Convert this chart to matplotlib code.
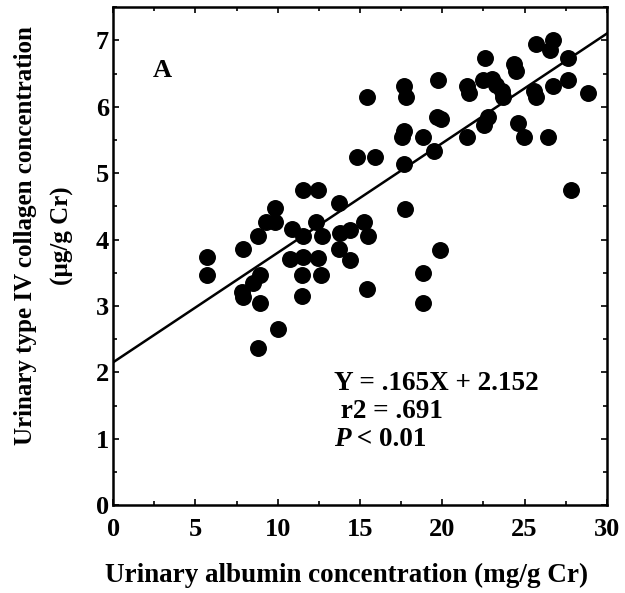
import matplotlib
matplotlib.use("Agg")
import matplotlib.pyplot as plt
from matplotlib.ticker import MultipleLocator

# urinary albumin (mg/g Cr) vs urinary type IV collagen (ug/g Cr)
albumin = [5.7, 5.7, 7.9, 7.8, 7.9, 8.5, 8.9, 8.9, 8.8, 8.8,
           9.3, 9.85, 9.85, 10.0, 10.85, 10.75, 11.55, 11.55, 11.5, 11.45,
           11.55, 12.45, 12.3, 12.7, 12.45, 12.65, 13.7, 13.8, 13.7, 14.4,
           14.4, 14.8, 15.9, 15.25, 15.5, 15.45, 15.45, 17.7, 17.8, 17.7,
           17.55, 17.7, 17.75, 18.85, 18.8, 18.85, 19.5, 19.65, 19.95, 19.75,
           19.85, 21.5, 21.65, 21.5, 22.6, 22.5, 23.0, 23.25, 23.6, 23.7,
           22.55, 22.8, 24.35, 24.45, 24.6, 24.95, 25.7, 26.7, 26.55, 27.65,
           27.65, 26.7, 25.6, 25.7, 28.85, 26.4, 27.85]
collagen = [3.74, 3.46, 3.86, 3.21, 3.14, 3.34, 3.46, 3.04, 2.36, 4.06,
            4.27, 4.47, 4.27, 2.66, 4.16, 3.70, 4.06, 3.74, 3.46, 3.15,
            4.74, 4.74, 4.26, 4.06, 3.72, 3.46, 4.55, 4.10, 3.86, 4.15,
            3.69, 5.25, 5.25, 4.27, 4.06, 3.26, 6.14, 6.31, 6.14, 5.64,
            5.54, 5.14, 4.46, 5.54, 3.50, 3.04, 5.34, 5.84, 5.82, 6.41,
            3.85, 6.31, 6.21, 5.54, 6.74, 6.41, 6.42, 6.32, 6.24, 6.14,
            5.72, 5.84, 6.64, 6.54, 5.75, 5.54, 6.95, 7.01, 6.85, 6.74,
            6.41, 6.31, 6.23, 6.14, 6.21, 5.54, 4.74]

slope = 0.165
intercept = 2.152
fit_x = [0, 30]

plt.rcParams['font.family'] = 'Liberation Serif'
plt.rcParams['font.weight'] = 'bold'

fig = plt.figure(figsize=(6.25, 5.93), dpi=100)
ax = fig.add_axes([0.181, 0.148, 0.79, 0.84])

ax.scatter(albumin, collagen, s=125, color='black', zorder=3)
ax.plot(fit_x, [slope * x + intercept for x in fit_x], color='black', lw=1.8)

ax.set_xlim(0, 30)
ax.set_ylim(0, 7.5)
ax.xaxis.set_major_locator(MultipleLocator(5))
ax.xaxis.set_minor_locator(MultipleLocator(2.5))
ax.yaxis.set_major_locator(MultipleLocator(1))
ax.yaxis.set_minor_locator(MultipleLocator(0.5))
ax.tick_params(which='both', direction='in', top=True, right=True, width=1.2)
ax.tick_params(which='major', length=4, labelsize=19)
ax.tick_params(axis='x', which='major', pad=9)
ax.tick_params(axis='y', which='major', pad=3)
ax.tick_params(which='minor', length=3)
for s in ax.spines.values():
    s.set_linewidth(1.8)

ax.set_xlabel("Urinary albumin concentration (mg/g Cr)", fontsize=19.5,
              fontweight='bold')
ax.xaxis.set_label_coords(0.472, -0.115)
ax.set_ylabel("Urinary type IV collagen concentration\n(\u00b5g/g Cr)",
              fontsize=18, fontweight='bold', linespacing=1.75)
ax.yaxis.set_label_coords(-0.08, 0.542)

ax.text(3.0, 6.55, "A", fontsize=19, fontweight='bold', ha='center', va='center')
ax.text(13.4, 1.84, "Y = .165X + 2.152", fontsize=19.5, fontweight='bold', va='center')
ax.text(13.4, 1.41, " r2 = .691", fontsize=19.5, fontweight='bold', va='center')
p = ax.text(13.4, 0.99, "P", fontsize=19.5, fontweight='bold', fontstyle='italic',
            va='center')
ax.annotate(" < 0.01", xy=(1, 0.5), xycoords=p, fontsize=19.5, fontweight='bold',
            va='center')

fig.savefig("out.png", dpi=100)
